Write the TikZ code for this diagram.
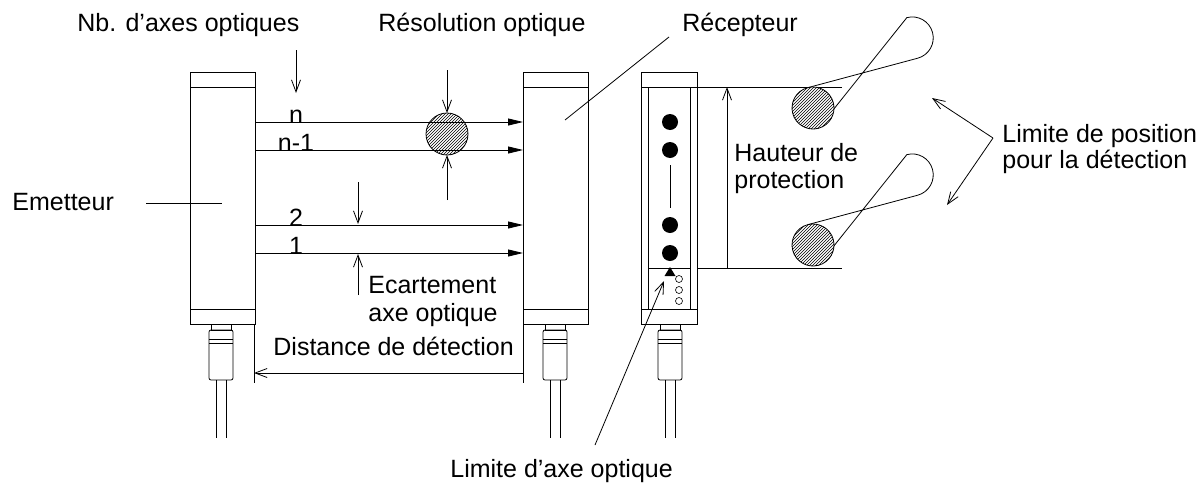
\documentclass[tikz,border=0pt]{standalone}
\usepackage{fontspec}
\setmainfont{Liberation Sans}
\usetikzlibrary{arrows.meta,patterns}
\begin{document}
\begin{tikzpicture}[x=1pt,y=-1pt,line width=0.8pt,
  lbl/.style={inner sep=0pt,anchor=base west,font=\fontsize{25}{28}\selectfont},
  open/.style={-{Straight Barb[length=12pt,width=9pt]}},
  beam/.style={-{Triangle[length=15pt,width=7pt]}},
  hatch/.style={pattern=north east lines,draw},
  part/.style={draw,fill=white}]
\useasboundingbox (0,0) rectangle (1204,490);
% emitter & receiver
\foreach \n/\x/\c in {em/190/209, rc/523/543}{
  \draw (\x,72) rectangle ++(65,252);
  \draw (\x,87) -- ++(65,0) (\x,309) -- ++(65,0);
  \draw (\c+2,324) rectangle ++(20,6);
  \draw[rounded corners=2pt] (\c,330) rectangle ++(24,50);
  \draw (\c,339) -- ++(24,0) (\c,343) -- ++(24,0);
  \draw (\c+7,380) -- ++(0,58) (\c+17,380) -- ++(0,58);
}
\coordinate (emR) at (255,0); \coordinate (rcL) at (523,0);
% third unit
\draw (641,72) rectangle (697,324);
\draw (641,87) -- (697,87) (641,309) -- (697,309);
\draw (648,87) -- (648,309) (690,87) -- (690,309) (648,268) -- (690,268);
\foreach \y in {122,150,225,253} \fill (670,\y) circle (8);
\draw (670,165) -- (670,208);
\fill (670,267) -- (664.5,276) -- (675.5,276) -- cycle;
\foreach \y in {279,290,301} \draw[line width=0.6pt] (679,\y) circle (3.5);
\draw (660,324) rectangle ++(20,6);
\draw[rounded corners=2pt] (658,330) rectangle ++(24,50);
\draw (658,339) -- ++(24,0) (658,343) -- ++(24,0);
\draw (665,380) -- ++(0,58) (675,380) -- ++(0,58);
% beams
\foreach \y/\t in {122/n,150/n-1,225/2,253/1}{
  \draw[beam] (255,\y) -- (523,\y);
  \node[lbl,anchor=base] at (296,\y+1) {\t};
}
\draw[hatch] (447,134) circle (21);
\draw[open] (447,70) -- (447,113);
\draw[open] (447,200) -- (447,155);
\draw[open] (296,50) -- (296,93);
\draw[open] (358,182) -- (358,224);
\draw[open] (358,295) -- (358,254);
% distance
\draw (254,324) -- (254,383) (523,324) -- (523,383);
\draw[open,{Straight Barb[length=12pt,width=9pt]}-] (254,373) -- (523,373);
% protection height
\draw (697,87) -- (842,87) (697,268) -- (842,268);
\draw[open,{Straight Barb[length=12pt,width=9pt]}-] (727,87) -- (727,268);
% cylinders
\foreach \cy in {108,245}{
  \begin{scope}[shift={(813,\cy)},rotate=15]
    \draw (0,-21) -- (114,-21) arc (90:-90:21) -- (0,21);
    \fill[white] (0,0) circle (21);
    \draw[hatch] (0,0) circle (21);
  \end{scope}
}
% texts
\node[lbl] (nb) at (77,31) {Nb. d’axes optiques};
\node[lbl] (res) at (378,31) {Résolution optique};
\node[lbl] (rec) at (682,31) {Récepteur};
\draw (669,37) -- (565,120);
\node[lbl] (em) at (12,210) {Emetteur};
\draw (146,203) -- (222,203);
\node[lbl] at (368,293) {Ecartement};
\node[lbl] at (368,321) {axe optique};
\node[lbl] (dist) at (273,355) {Distance de détection};
\node[lbl] at (734,161) {Hauteur de};
\node[lbl] at (734,188) {protection};
\node[lbl] (lp) at (1002,142) {Limite de position};
\node[lbl] at (1002,168) {pour la détection};
\coordinate (apex) at (993,138);
\draw[open] (apex) -- (932,98);
\draw[open] (apex) -- (947,205);
\node[lbl] (la) at (450,477) {Limite d’axe optique};
\draw[open] (595,445) -- (664,281);
\end{tikzpicture}
\end{document}
